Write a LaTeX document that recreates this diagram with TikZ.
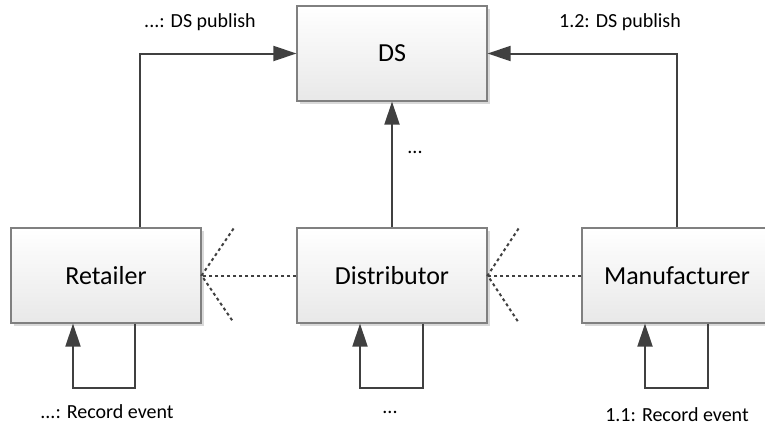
\documentclass[tikz,border=0pt]{standalone}
\usepackage{fontspec}
\setmainfont{Carlito}
\usetikzlibrary{arrows.meta,shadows,calc}
\definecolor{linegray}{HTML}{404040}
\definecolor{framegray}{HTML}{808080}
\tikzset{
  objbox/.style={draw=framegray, line width=1.2pt, minimum width=190pt, minimum height=95pt,
    top color=white, bottom color=black!9, inner sep=0pt,
    drop shadow={shadow xshift=3pt, shadow yshift=-3pt, fill=black!15, opacity=1},
    font=\fontsize{26}{30}\selectfont},
  conn/.style={draw=linegray, line width=2pt, -{Triangle[length=23pt,width=15pt]}},
  dotline/.style={draw=linegray, line width=2pt, dash pattern=on 3pt off 3pt},
  msg/.style={font=\fontsize{20}{24}\selectfont, inner sep=0pt}
}
\begin{document}
\begin{tikzpicture}[x=1pt, y=-1pt]
  \useasboundingbox (0,0) rectangle (765,429);

  % participants
  \node[objbox] (ds)   at (392,53.5)  {DS};
  \node[objbox] (ret)  at (106,275.5) {Retailer};
  \node[objbox] (dist) at (392,275.5) {Distributor};
  \node[objbox] (man)  at (677,275.5) {Manufacturer};

  % publish messages to DS
  \draw[conn] ([xshift=34pt]ret.north) |- (ds.west);
  \draw[conn] (man.north) |- (ds.east);
  \draw[conn] (dist.north) -- (ds.south);

  % record-event self messages
  \draw[conn] ([xshift=29pt]ret.south) -- ++(0,64) -| ([xshift=-33pt]ret.south);
  \draw[conn] ([xshift=31pt]dist.south) -- ++(0,64) -| ([xshift=-32pt]dist.south);
  \draw[conn] ([xshift=31pt]man.south) -- ++(0,64) -| ([xshift=-32pt]man.south);

  % dotted open-arrow links
  \draw[dotline] (dist.west) -- (ret.east);
  \draw[dotline] ($(ret.east)+(32,-47)$) -- (ret.east) -- ($(ret.east)+(32,47)$);
  \draw[dotline] (man.west) -- (dist.east);
  \draw[dotline] ($(dist.east)+(31,-47)$) -- (dist.east) -- ($(dist.east)+(31,47)$);

  % message labels
  \node[msg] (l1) at (200,22)  {...: DS publish};
  \node[msg] (l2) at (620,22)  {1.2: DS publish};
  \node[msg] (l3) at (415,152) {...};
  \node[msg] (l4) at (107,412) {...: Record event};
  \node[msg] (l5) at (390,412) {...};
  \node[msg] (l6) at (677,415) {1.1: Record event};
\end{tikzpicture}
\end{document}
